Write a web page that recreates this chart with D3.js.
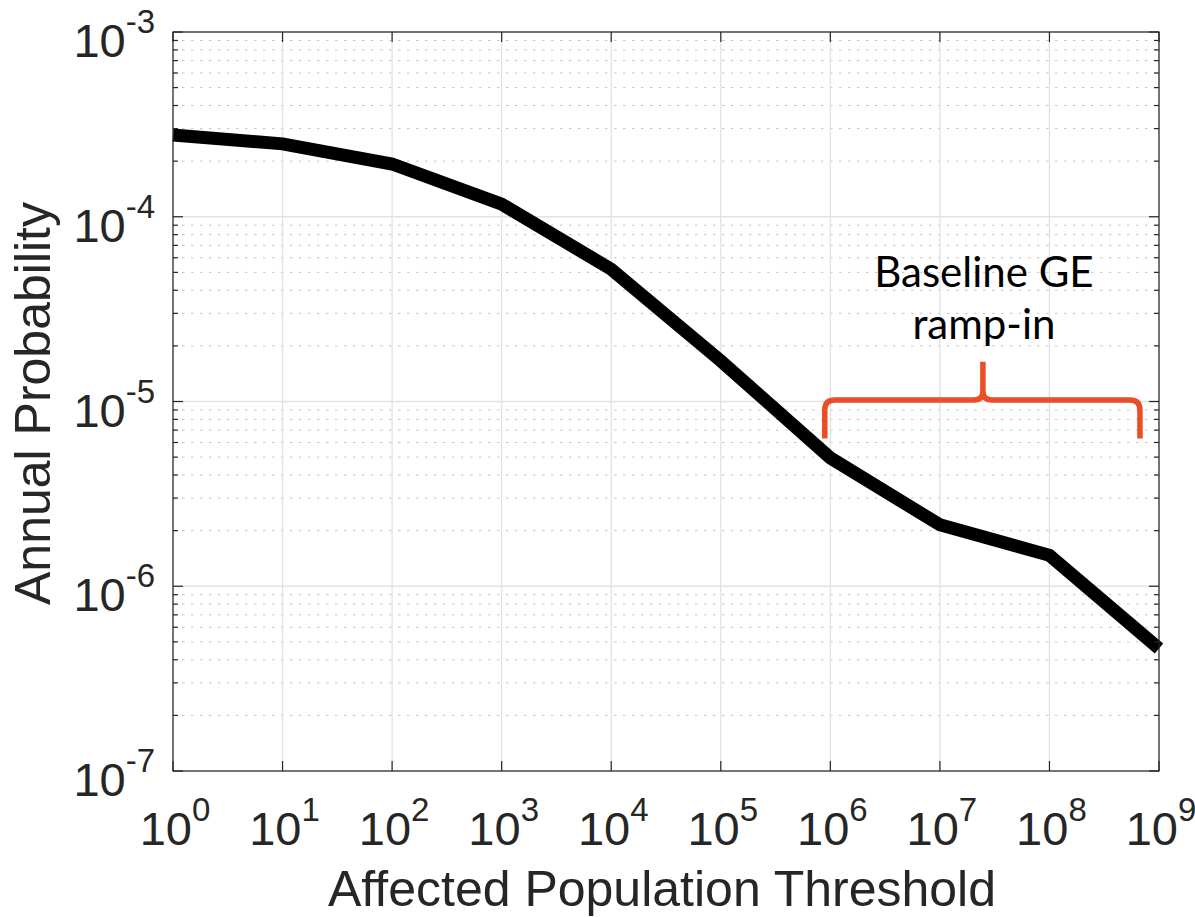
<!DOCTYPE html>
<html>
<head>
<meta charset="utf-8">
<script src="https://cdn.jsdelivr.net/npm/d3@7"></script>
<style>
  html, body { margin: 0; padding: 0; background: #fff; }
  svg { display: block; }
</style>
</head>
<body>
<svg id="chart" width="1195" height="917"></svg>
<script>
// ---- data ----
const thresholds = [1e0, 1e1, 1e2, 1e3, 1e4, 1e5, 1e6, 1e7, 1e8, 1e9];
const probabilities = [2.77e-4, 2.48e-4, 1.93e-4, 1.17e-4, 5.2e-5, 1.66e-5, 4.95e-6, 2.15e-6, 1.47e-6, 4.6e-7];
const xTickExponents = [0, 1, 2, 3, 4, 5, 6, 7, 8, 9];
const yTickExponents = [-3, -4, -5, -6, -7];
const xTickLabels = ["0", "1", "2", "3", "4", "5", "6", "7", "8", "9"];
const yTickLabels = ["-3", "-4", "-5", "-6", "-7"];
const xTitle = "Affected Population Threshold";
const yTitle = "Annual Probability";
const annotationLines = ["Baseline GE", "ramp-in"];
// brace annotation in data units: [start, end] on x, level on y, tip
const braceX = [8.9e5, 6.7e8];
const braceTipX = 2.47e7;
const braceY = { top: 1.02e-5, bottom: 6.3e-6, tip: 1.64e-5 };

// ---- layout ----
const svg = d3.select("#chart");
const L = 173, R = 1159, T = 32, B = 771;
const axisColor = "#262626";
const font = "'Liberation Sans', Arial, Helvetica, sans-serif";

const x = d3.scaleLog().domain([1e0, 1e9]).range([L, R]);
const y = d3.scaleLog().domain([1e-7, 1e-3]).range([B, T]);

// minor y grid (dotted)
const minorY = [];
for (let e = -7; e < -3; e++) for (let m = 2; m <= 9; m++) minorY.push(m * Math.pow(10, e));
svg.append("g").selectAll("line").data(minorY).join("line")
  .attr("x1", L).attr("x2", R)
  .attr("y1", d => y(d)).attr("y2", d => y(d))
  .attr("stroke", "#c4c4c4").attr("stroke-width", 1)
  .attr("stroke-dasharray", "2.5,6.5");

// major grids
svg.append("g").selectAll("line").data(xTickExponents).join("line")
  .attr("x1", d => x(Math.pow(10, d))).attr("x2", d => x(Math.pow(10, d)))
  .attr("y1", T).attr("y2", B)
  .attr("stroke", "#e2e2e2").attr("stroke-width", 1.3);
svg.append("g").selectAll("line").data(yTickExponents).join("line")
  .attr("x1", L).attr("x2", R)
  .attr("y1", d => y(Math.pow(10, d))).attr("y2", d => y(Math.pow(10, d)))
  .attr("stroke", "#e2e2e2").attr("stroke-width", 1.3);

// data line
const line = d3.line().x((d, i) => x(thresholds[i])).y(d => y(d));
svg.append("path").datum(probabilities)
  .attr("d", line)
  .attr("fill", "none").attr("stroke", "#000")
  .attr("stroke-width", 13).attr("stroke-linejoin", "miter").attr("stroke-linecap", "butt");

// axes box
svg.append("rect").attr("x", L).attr("y", T).attr("width", R - L).attr("height", B - T)
  .attr("fill", "none").attr("stroke", axisColor).attr("stroke-width", 1.2);

// ticks (inside)
const ticks = svg.append("g").attr("stroke", axisColor).attr("stroke-width", 1.2);
xTickExponents.forEach(e => {
  const xx = x(Math.pow(10, e));
  ticks.append("line").attr("x1", xx).attr("x2", xx).attr("y1", B).attr("y2", B - 10);
  ticks.append("line").attr("x1", xx).attr("x2", xx).attr("y1", T).attr("y2", T + 10);
});
yTickExponents.forEach(e => {
  const yy = y(Math.pow(10, e));
  ticks.append("line").attr("x1", L).attr("x2", L + 10).attr("y1", yy).attr("y2", yy);
  ticks.append("line").attr("x1", R).attr("x2", R - 10).attr("y1", yy).attr("y2", yy);
});
minorY.forEach(v => {
  const yy = y(v);
  ticks.append("line").attr("x1", L).attr("x2", L + 5).attr("y1", yy).attr("y2", yy);
  ticks.append("line").attr("x1", R).attr("x2", R - 5).attr("y1", yy).attr("y2", yy);
});

// tick labels
const baseSize = 47, supSize = 33, supRise = 24;
function powLabel(g, s) {
  g.append("tspan").text("10");
  g.append("tspan").attr("dy", -supRise).attr("font-size", supSize).text(s);
}
xTickExponents.forEach((e, i) => {
  const t = svg.append("text")
    .attr("x", x(Math.pow(10, e)) + 2).attr("y", 845)
    .attr("text-anchor", "middle")
    .attr("font-family", font).attr("font-size", baseSize).attr("fill", axisColor);
  powLabel(t, xTickLabels[i]);
});
yTickExponents.forEach((e, i) => {
  const t = svg.append("text")
    .attr("x", 155).attr("y", y(Math.pow(10, e)) + 25)
    .attr("text-anchor", "end")
    .attr("font-family", font).attr("font-size", baseSize).attr("fill", axisColor);
  powLabel(t, yTickLabels[i]);
});

// axis titles
svg.append("text").attr("x", (L + R) / 2 - 4).attr("y", 906)
  .attr("text-anchor", "middle").attr("font-family", font).attr("font-size", 50)
  .attr("fill", axisColor).text(xTitle);
svg.append("text").attr("transform", `translate(50,${(T + B) / 2 + 2}) rotate(-90)`)
  .attr("text-anchor", "middle").attr("font-family", font).attr("font-size", 50)
  .attr("fill", axisColor).text(yTitle);

// brace annotation
const bx0 = x(braceX[0]), bx1 = x(braceX[1]), bxm = x(braceTipX);
const byTop = y(braceY.top), byBot = y(braceY.bottom), byTip = y(braceY.tip);
const r = 10, rt = 9;
const p = d3.path();
p.moveTo(bx0, byBot);
p.lineTo(bx0, byTop + r);
p.quadraticCurveTo(bx0, byTop, bx0 + r, byTop);
p.lineTo(bxm - rt, byTop);
p.quadraticCurveTo(bxm, byTop, bxm, byTop - rt);
p.lineTo(bxm, byTip);
p.moveTo(bxm, byTop - rt);
p.quadraticCurveTo(bxm, byTop, bxm + rt, byTop);
p.lineTo(bx1 - r, byTop);
p.quadraticCurveTo(bx1, byTop, bx1, byTop + r);
p.lineTo(bx1, byBot);
svg.append("path").attr("d", p.toString())
  .attr("fill", "none").attr("stroke", "#E94E24").attr("stroke-width", 5.5)
  .attr("stroke-linejoin", "round");

const ann = svg.append("text").attr("text-anchor", "middle")
  .attr("font-family", "Lato, 'Open Sans', sans-serif").attr("font-size", 42).attr("fill", "#000");
ann.append("tspan").attr("x", bxm + 1).attr("y", 287).text(annotationLines[0]);
ann.append("tspan").attr("x", bxm + 1).attr("y", 339).text(annotationLines[1]);
</script>
</body>
</html>
